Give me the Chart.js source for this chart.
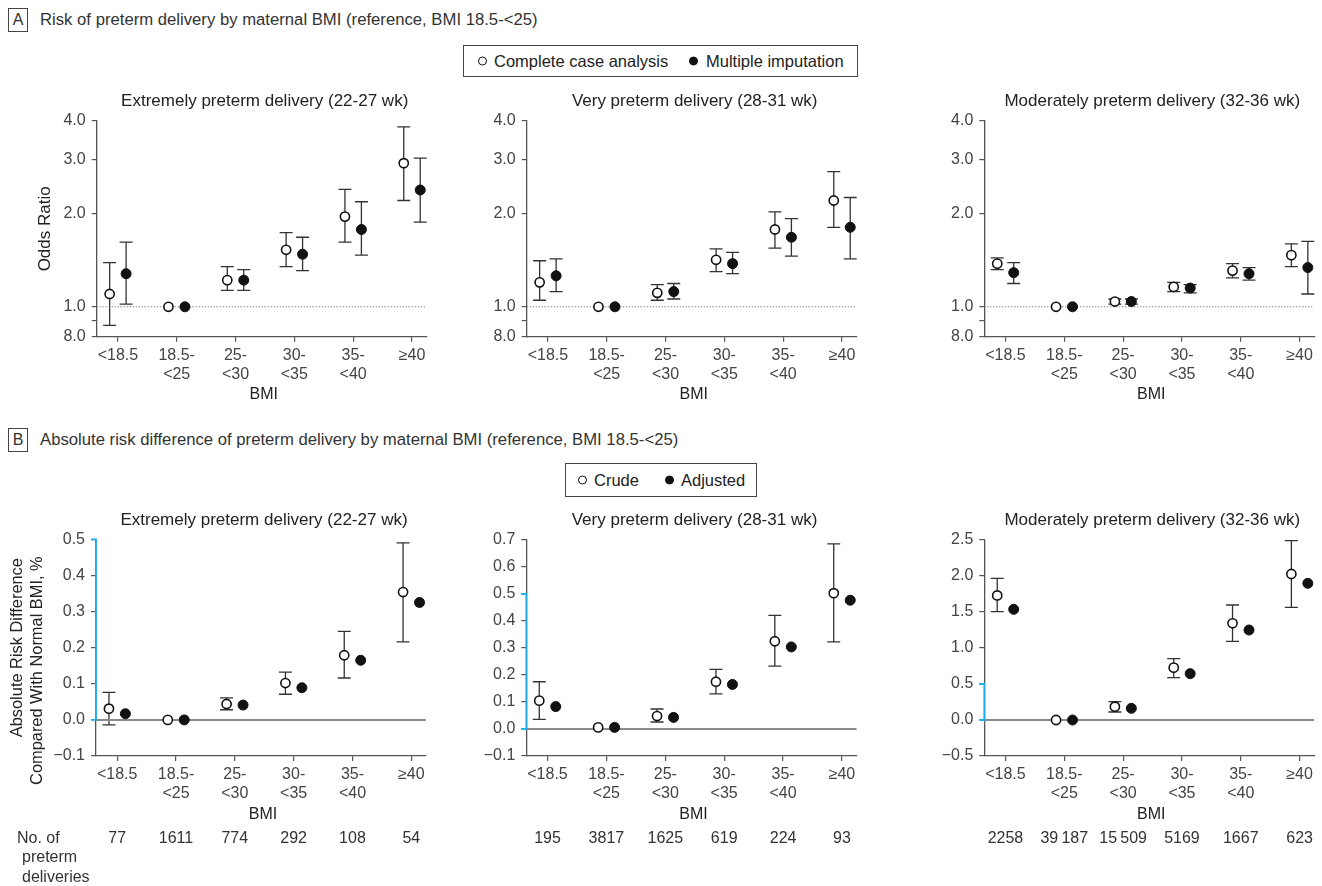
<!DOCTYPE html>
<html>
<head>
<meta charset="utf-8">
<script src="https://cdn.jsdelivr.net/npm/chart.js@4.4.1/dist/chart.umd.min.js"></script>
<style>
    body { margin: 0; width: 1322px; height: 886px; background: #fff; position: relative; overflow: hidden;
           font-family: "Liberation Sans", Arial, sans-serif; color: #333; }
    canvas { position: absolute; }
    .hdr-box  { position: absolute; left: 8px; width: 20px; height: 24px; box-sizing: border-box; border: 1px solid #444;
                font-size: 16px; line-height: 22px; text-align: center; color: #333; }
    .hdr-text { position: absolute; left: 40px; font-size: 16.7px; line-height: 24px; color: #333; }
    .legend   { position: absolute; box-sizing: border-box; border: 1px solid #444; font-size: 16.5px; color: #222; }
    .legend span { position: absolute; top: 50%; transform: translateY(-50%); white-space: nowrap; }
    .dot      { width: 9px; height: 9px; box-sizing: border-box; border-radius: 50%; border: 1.6px solid #111; background: #fff; }
    .dot.fill { background: #111; }
</style>
</head>
<body>

<div class="hdr-box" style="top:8px;">A</div>
<div class="hdr-text" style="top:8px;">Risk of preterm delivery by maternal BMI (reference, BMI 18.5-&lt;25)</div>
<div class="legend" style="left:463px; top:45px; width:395px; height:32px;">
    <span class="dot" style="left:14px;"></span><span style="left:30px;">Complete case analysis</span>
    <span class="dot fill" style="left:225px;"></span><span style="left:242px;">Multiple imputation</span>
</div>

<div class="hdr-box" style="top:428px;">B</div>
<div class="hdr-text" style="top:428px;">Absolute risk difference of preterm delivery by maternal BMI (reference, BMI 18.5-&lt;25)</div>
<div class="legend" style="left:565px; top:463px; width:192px; height:34px;">
    <span class="dot" style="left:12px;"></span><span style="left:28px;">Crude</span>
    <span class="dot fill" style="left:99px;"></span><span style="left:115px;">Adjusted</span>
</div>

<canvas id="a1" width="440" height="320" style="left:0;   top:90px;"></canvas>
<canvas id="a2" width="440" height="320" style="left:440px; top:90px;"></canvas>
<canvas id="a3" width="442" height="320" style="left:880px; top:90px;"></canvas>
<canvas id="b1" width="440" height="386" style="left:0;   top:500px;"></canvas>
<canvas id="b2" width="440" height="386" style="left:440px; top:500px;"></canvas>
<canvas id="b3" width="442" height="386" style="left:880px; top:500px;"></canvas>

<script>
'use strict';

/* ── categories & ticks ── */
const bmiLabels   = [['<18.5'], ['18.5-', '<25'], ['25-', '<30'], ['30-', '<35'], ['35-', '<40'], ['\u226540']];
const orTicks     = [0.8, 0.9, 1, 2, 3, 4];
const orTickLabels = ['8.0', '', '1.0', '2.0', '3.0', '4.0'];
const xMin = -0.36, xMax = 5.25;

/* ── A: odds ratios ── */
const orExtOpen   = [1.10, 1.00, 1.22, 1.53, 1.96, 2.92];
const orExtOpenLo = [0.87, null, 1.13, 1.35, 1.62, 2.21];
const orExtOpenHi = [1.39, null, 1.35, 1.74, 2.40, 3.83];
const orExtFill   = [1.28, 1.00, 1.22, 1.48, 1.78, 2.39];
const orExtFillLo = [1.02, null, 1.13, 1.31, 1.47, 1.88];
const orExtFillHi = [1.62, null, 1.32, 1.68, 2.19, 3.03];

const orVeryOpen   = [1.20, 1.00, 1.11, 1.42, 1.78, 2.21];
const orVeryOpenLo = [1.05, null, 1.05, 1.30, 1.55, 1.81];
const orVeryOpenHi = [1.41, null, 1.18, 1.54, 2.03, 2.74];
const orVeryFill   = [1.26, 1.00, 1.12, 1.38, 1.68, 1.81];
const orVeryFillLo = [1.12, null, 1.06, 1.28, 1.46, 1.43];
const orVeryFillHi = [1.43, null, 1.19, 1.50, 1.93, 2.26];

const orModOpen   = [1.38, 1.00, 1.04, 1.16, 1.31, 1.47];
const orModOpenLo = [1.32, null, 1.02, 1.12, 1.24, 1.35];
const orModOpenHi = [1.44, null, 1.06, 1.20, 1.38, 1.60];
const orModFill   = [1.29, 1.00, 1.04, 1.15, 1.28, 1.34];
const orModFillLo = [1.19, null, 1.02, 1.11, 1.22, 1.10];
const orModFillHi = [1.39, null, 1.06, 1.18, 1.34, 1.63];

/* ── B: absolute risk differences, % ── */
const rdExtCrude   = [0.031, 0.000, 0.044, 0.102, 0.179, 0.354];
const rdExtCrudeLo = [-0.014, null, 0.028, 0.071, 0.116, 0.216];
const rdExtCrudeHi = [0.076, null, 0.061, 0.132, 0.245, 0.490];
const rdExtAdj     = [0.017, 0.000, 0.041, 0.089, 0.165, 0.325];

const rdVeryCrude   = [0.105, 0.006, 0.048, 0.175, 0.325, 0.503];
const rdVeryCrudeLo = [0.036, null, 0.026, 0.130, 0.233, 0.323];
const rdVeryCrudeHi = [0.175, null, 0.074, 0.221, 0.421, 0.686];
const rdVeryAdj     = [0.083, 0.006, 0.043, 0.165, 0.304, 0.477];

const rdModCrude   = [1.730, 0.000, 0.185, 0.727, 1.343, 2.028];
const rdModCrudeLo = [1.504, null, 0.111, 0.588, 1.093, 1.565];
const rdModCrudeHi = [1.968, null, 0.254, 0.852, 1.597, 2.490];
const rdModAdj     = [1.537, 0.000, 0.162, 0.644, 1.250, 1.898];

const nExt  = ['77', '1611', '774', '292', '108', '54'];
const nVery = ['195', '3817', '1625', '619', '224', '93'];
const nMod  = ['2258', '39\u2009187', '15\u2009509', '5169', '1667', '623'];

const FONT = '"Liberation Sans", Arial, sans-serif';
Chart.defaults.font.family = FONT;
Chart.defaults.color = '#444';

/* ── error bars under the markers ── */
const errorBars = {
    id: 'errorBars',
    beforeDatasetsDraw(chart) {
        const { ctx, scales: { x, y } } = chart;
        ctx.save();
        ctx.strokeStyle = '#333';
        ctx.lineWidth = 1.3;
        chart.data.datasets.forEach(ds => {
            if (!ds.lo) return;
            ds.data.forEach((p, i) => {
                if (ds.lo[i] == null) return;
                const px = x.getPixelForValue(p.x);
                const y1 = y.getPixelForValue(ds.lo[i]);
                const y2 = y.getPixelForValue(ds.hi[i]);
                ctx.beginPath();
                ctx.moveTo(px, y1); ctx.lineTo(px, y2);
                ctx.moveTo(px - 6.5, y1); ctx.lineTo(px + 6.5, y1);
                ctx.moveTo(px - 6.5, y2); ctx.lineTo(px + 6.5, y2);
                ctx.stroke();
            });
        });
        ctx.restore();
    }
};

/* ── titles, axis titles, counts row, cyan axis segment ── */
const panelText = {
    id: 'panelText',
    afterDraw(chart, args, o) {
        const { ctx, chartArea: a, scales: { x, y } } = chart;
        const cx = (a.left + a.right) / 2;
        ctx.save();
        ctx.textBaseline = 'middle';
        ctx.textAlign = 'center';
        ctx.fillStyle = '#222';
        ctx.font = `17px ${FONT}`;
        ctx.fillText(o.title, cx + 3, o.titleY);
        ctx.font = `16px ${FONT}`;
        ctx.fillText('BMI', cx + 2, o.bmiY);

        ctx.font = `${o.yTitleSize || 16}px ${FONT}`;
        (o.yTitle || []).forEach(t => {
            ctx.save();
            ctx.translate(t.x, (a.top + a.bottom) / 2 + t.dy);
            ctx.rotate(-Math.PI / 2);
            ctx.fillText(t.text, 0, 0);
            ctx.restore();
        });

        ctx.font = `16px ${FONT}`;
        if (o.counts) {
            ctx.fillStyle = '#333';
            o.counts.forEach((c, i) => ctx.fillText(c, x.getPixelForValue(i), o.countsY));
        }
        if (o.rowLabel) {
            ctx.textAlign = 'left';
            o.rowLabel.forEach(r => ctx.fillText(r.text, r.x, r.y));
        }
        if (o.cyan) {
            const yTop = y.getPixelForValue(o.cyan[1]);
            const yBot = y.getPixelForValue(o.cyan[0]);
            ctx.strokeStyle = '#1fb0ea';
            ctx.lineWidth = 1.8;
            ctx.beginPath();
            ctx.moveTo(a.left - 5, yTop); ctx.lineTo(a.left, yTop);
            ctx.lineTo(a.left, yBot); ctx.lineTo(a.left - 5, yBot);
            ctx.stroke();
        }
        ctx.restore();
    }
};

function refLine(v, dotted) {
    return {
        type: 'line',
        data: [{ x: xMin, y: v }, { x: xMax, y: v }],
        borderColor: dotted ? '#555' : '#8a8a8a',
        borderWidth: dotted ? 1 : 2,
        borderDash: dotted ? [1, 2] : [],
        pointRadius: 0,
        order: 10
    };
}

function markers(vals, lo, hi, filled) {
    const shift = filled ? 0.14 : -0.14;
    return {
        type: 'scatter',
        data: vals.map((v, i) => ({ x: i + shift, y: v })),
        lo, hi,
        pointRadius: filled ? 5 : 4.6,
        pointBackgroundColor: filled ? '#111' : '#fff',
        pointBorderColor: '#111',
        pointBorderWidth: filled ? 1 : 1.6,
        order: filled ? 1 : 2
    };
}

function yTickLabel(v) {
    if (Math.abs(v) < 1e-9) return '0.0';
    return v < 0 ? '\u2212' + Math.abs(v).toFixed(1) : v.toFixed(1);
}

function buildPanel(id, box, yScale, datasets, text) {
    const canvas = document.getElementById(id);
    const W = canvas.width, H = canvas.height;
    new Chart(canvas, {
        type: 'scatter',
        data: { datasets },
        options: {
            responsive: false,
            animation: false,
            events: [],
            layout: { padding: { left: 0, right: W - box.r, top: box.t, bottom: 0 } },
            plugins: { legend: { display: false }, tooltip: { enabled: false }, panelText: text },
            scales: {
                x: {
                    type: 'linear', min: xMin, max: xMax,
                    afterBuildTicks: s => { s.ticks = bmiLabels.map((_, i) => ({ value: i })); },
                    afterFit: s => { s.height = H - box.b; },
                    ticks: {
                        callback: v => bmiLabels[v], autoSkip: false, maxRotation: 0,
                        padding: 4, color: '#444', font: { size: 16, lineHeight: 1.2 }
                    },
                    grid: { drawOnChartArea: false, tickLength: 5, color: '#555', lineWidth: 1.2 },
                    border: { color: '#555', width: 1.3 }
                },
                y: Object.assign({
                    afterFit: s => { s.width = box.l; },
                    grid: { drawOnChartArea: false, tickLength: 5, color: '#555', lineWidth: 1.2 },
                    border: { color: '#555', width: 1.3 }
                }, yScale)
            }
        },
        plugins: [errorBars, panelText]
    });
}

const orScale = {
    type: 'logarithmic', min: 0.8, max: 4,
    afterBuildTicks: s => { s.ticks = orTicks.map(v => ({ value: v })); },
    ticks: { callback: (v, i) => orTickLabels[i], padding: 6, color: '#444', font: { size: 16 } }
};
function rdScale(min, max, step) {
    return {
        type: 'linear', min, max,
        ticks: { stepSize: step, callback: yTickLabel, padding: 6, color: '#444', font: { size: 16 } }
    };
}

const boxA1 = { l: 96.7, r: 426.7, t: 31, b: 246.7 };
const boxA2 = { l: 86.7, r: 416.7, t: 31, b: 246.7 };
const boxA3 = { l: 104.3, r: 434.3, t: 31, b: 246.7 };
const boxB1 = { l: 96, r: 426, t: 39.3, b: 256 };
const boxB2 = { l: 86.3, r: 416.7, t: 40, b: 256 };
const boxB3 = { l: 104.3, r: 434.3, t: 40, b: 256 };

const textA = (title, extra) => Object.assign({ title, titleY: 11.7, bmiY: 305 }, extra);
const textB = (title, counts, extra) => Object.assign({ title, titleY: 20.7, bmiY: 314.3, counts, countsY: 339, cyan: [0, 0.5] }, extra);

buildPanel('a1', boxA1, orScale,
    [refLine(1, true), markers(orExtOpen, orExtOpenLo, orExtOpenHi, false), markers(orExtFill, orExtFillLo, orExtFillHi, true)],
    textA('Extremely preterm delivery (22-27 wk)', { yTitle: [{ text: 'Odds Ratio', x: 45, dy: 0 }], yTitleSize: 17 }));

buildPanel('a2', boxA2, orScale,
    [refLine(1, true), markers(orVeryOpen, orVeryOpenLo, orVeryOpenHi, false), markers(orVeryFill, orVeryFillLo, orVeryFillHi, true)],
    textA('Very preterm delivery (28-31 wk)'));

buildPanel('a3', boxA3, orScale,
    [refLine(1, true), markers(orModOpen, orModOpenLo, orModOpenHi, false), markers(orModFill, orModFillLo, orModFillHi, true)],
    textA('Moderately preterm delivery (32-36 wk)'));

buildPanel('b1', boxB1, rdScale(-0.1, 0.5, 0.1),
    [refLine(0, false), markers(rdExtCrude, rdExtCrudeLo, rdExtCrudeHi, false), markers(rdExtAdj, null, null, true)],
    textB('Extremely preterm delivery (22-27 wk)', nExt, {
        yTitle: [{ text: 'Absolute Risk Difference', x: 17, dy: 0 }, { text: 'Compared With Normal BMI, %', x: 37, dy: 23 }],
        yTitleSize: 16.4,
        rowLabel: [{ text: 'No. of', x: 17, y: 339 }, { text: 'preterm', x: 22, y: 358 }, { text: 'deliveries', x: 22, y: 377.5 }]
    }));

buildPanel('b2', boxB2, rdScale(-0.1, 0.7, 0.1),
    [refLine(0, false), markers(rdVeryCrude, rdVeryCrudeLo, rdVeryCrudeHi, false), markers(rdVeryAdj, null, null, true)],
    textB('Very preterm delivery (28-31 wk)', nVery));

buildPanel('b3', boxB3, rdScale(-0.5, 2.5, 0.5),
    [refLine(0, false), markers(rdModCrude, rdModCrudeLo, rdModCrudeHi, false), markers(rdModAdj, null, null, true)],
    textB('Moderately preterm delivery (32-36 wk)', nMod));
</script>
</body>
</html>
